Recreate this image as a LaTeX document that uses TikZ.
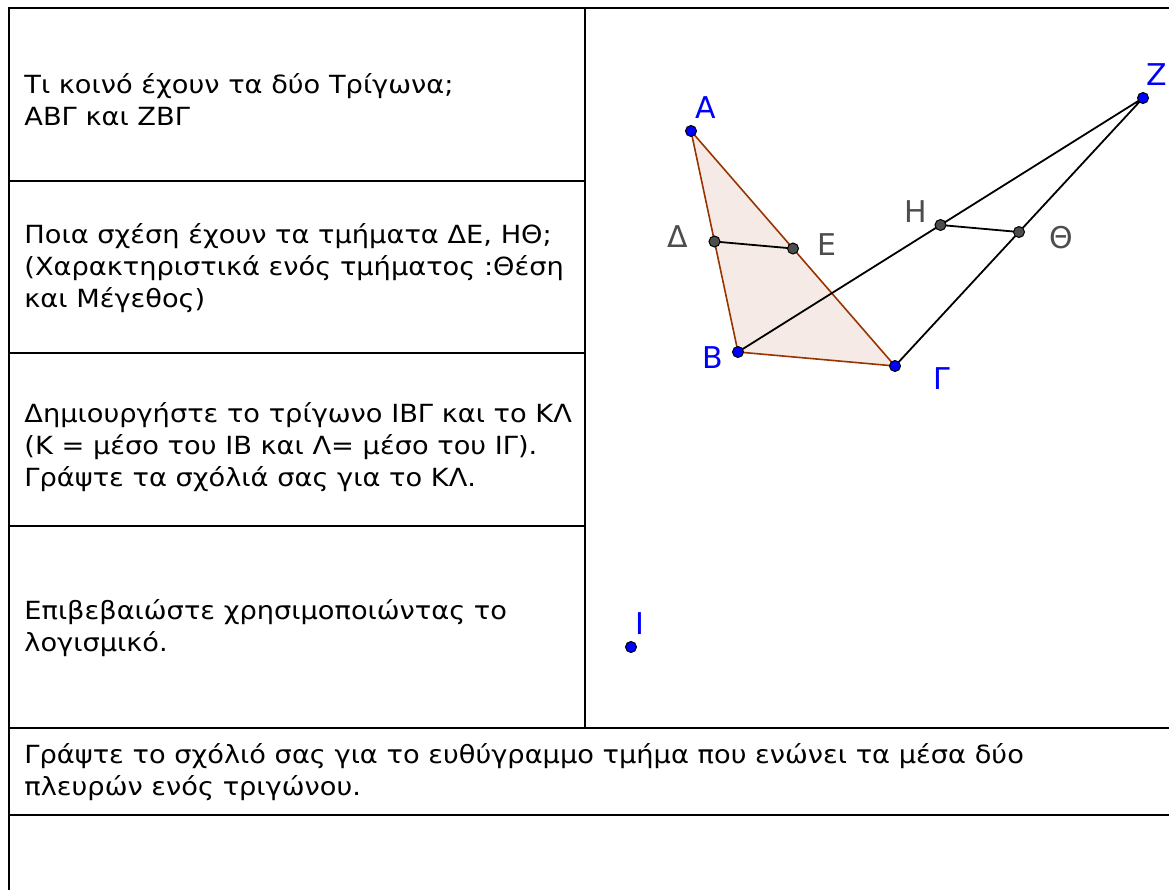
\documentclass[tikz,border=0pt]{standalone}
\usepackage{fontspec}
\setmainfont{DejaVu Sans}[FakeStretch=1.09]
\newfontfamily\labelfont{DejaVu Sans}
\usetikzlibrary{calc}

\definecolor{ggbrown}{RGB}{153,51,0}
\definecolor{ggblue}{RGB}{0,0,255}
\definecolor{gggray}{RGB}{77,77,77}

\begin{document}
\begin{tikzpicture}[x=0.5pt, y=-0.5pt, font=\fontsize{12.5}{16}\selectfont,
    rule/.style={line width=1.1pt},
    celltext/.style={anchor=west, align=left, inner sep=0pt},
    freept/.style={circle, draw=black, fill=ggblue, line width=0.5pt,
                   inner sep=0pt, minimum size=5.5pt},
    midpt/.style={freept, fill=gggray},
    ptlabel/.style={font=\labelfont\fontsize{15}{18}\selectfont, text=ggblue, inner sep=0pt},
    midlabel/.style={ptlabel, text=gggray}]
  \useasboundingbox (0,0) rectangle (1169,890);

  % table
  \draw[rule] (9,890) -- (9,8) -- (1169,8);
  \draw[rule] (585,8) -- (585,728);
  \foreach \y in {181,353,526}
     \draw[rule] (9,\y) -- (585,\y);
  \foreach \y in {728,815}
     \draw[rule] (9,\y) -- (1169,\y);

  % questions
  \node[celltext] (q1) at (24,100) {Τι κοινό έχουν τα δύο Τρίγωνα;\\ΑΒΓ και ΖΒΓ};
  \node[celltext] (q2) at (24,268) {Ποια σχέση έχουν τα τμήματα ΔΕ, ΗΘ;\\
    (Χαρακτηριστικά ενός τμήματος :Θέση\\και Μέγεθος)};
  \node[celltext] (q3) at (24,447) {Δημιουργήστε το τρίγωνο ΙΒΓ και το ΚΛ\\
    (Κ = μέσο του ΙΒ και Λ= μέσο του ΙΓ).\\Γράψτε τα σχόλιά σας για το ΚΛ.};
  \node[celltext] (q4) at (24,628) {Επιβεβαιώστε χρησιμοποιώντας το\\λογισμικό.};
  \node[celltext] (q5) at (24,772) {Γράψτε το σχόλιό σας για το ευθύγραμμο τμήμα που ενώνει τα μέσα δύο\\
    πλευρών ενός τριγώνου.};

  % figure
  \coordinate (A) at (691,131);
  \coordinate (B) at (738,352);
  \coordinate (G) at (895,366);
  \coordinate (Z) at (1143,98);
  \coordinate (I) at (631,647);
  \coordinate (D) at ($(A)!0.5!(B)$);
  \coordinate (E) at ($(A)!0.5!(G)$);
  \coordinate (H) at ($(Z)!0.5!(B)$);
  \coordinate (T) at ($(Z)!0.5!(G)$);

  \fill[ggbrown, fill opacity=0.1] (A) -- (B) -- (G) -- cycle;
  \draw[ggbrown, line width=0.8pt] (A) -- (B) -- (G) -- cycle;
  \draw[line width=0.9pt] (B) -- (Z) -- (G);
  \draw[line width=0.9pt] (D) -- (E);
  \draw[line width=0.9pt] (H) -- (T);

  \foreach \p in {A,B,G,Z,I}
     \node[freept] (\p dot) at (\p) {};
  \foreach \p in {D,E,H,T}
     \node[midpt] (\p dot) at (\p) {};

  \node[ptlabel] (Alab) at (706,108) {Α};
  \node[ptlabel] (Blab) at (713,358) {Β};
  \node[ptlabel] (Glab) at (942,379) {Γ};
  \node[ptlabel] (Zlab) at (1157,75) {Ζ};
  \node[ptlabel] (Ilab) at (640,624) {Ι};
  \node[midlabel] (Dlab) at (678,237) {Δ};
  \node[midlabel] (Elab) at (827,245) {Ε};
  \node[midlabel] (Hlab) at (916,212) {Η};
  \node[midlabel] (Tlab) at (1061,238) {Θ};
\end{tikzpicture}
\end{document}
